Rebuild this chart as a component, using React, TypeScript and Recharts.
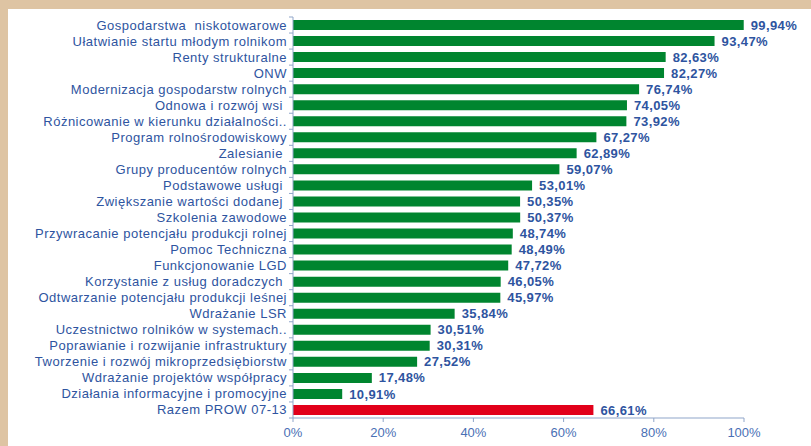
import React from 'react';
import { BarChart, Bar, XAxis, YAxis, Cell, LabelList } from 'recharts';

const categories: string[] = [
  'Gospodarstwa  niskotowarowe',
  'Ułatwianie startu młodym rolnikom',
  'Renty strukturalne',
  'ONW',
  'Modernizacja gospodarstw rolnych',
  'Odnowa i rozwój wsi ',
  'Różnicowanie w kierunku działalności..',
  'Program rolnośrodowiskowy',
  'Zalesianie ',
  'Grupy producentów rolnych',
  'Podstawowe usługi ',
  'Zwiększanie wartości dodanej ',
  'Szkolenia zawodowe',
  'Przywracanie potencjału produkcji rolnej',
  'Pomoc Techniczna',
  'Funkcjonowanie LGD',
  'Korzystanie z usług doradczych ',
  'Odtwarzanie potencjału produkcji leśnej',
  'Wdrażanie LSR',
  'Uczestnictwo rolników w systemach..',
  'Poprawianie i rozwijanie infrastruktury',
  'Tworzenie i rozwój mikroprzedsiębiorstw',
  'Wdrażanie projektów współpracy',
  'Działania informacyjne i promocyjne',
  'Razem PROW 07-13',
];

const values: number[] = [
  99.94, 93.47, 82.63, 82.27, 76.74, 74.05, 73.92, 67.27, 62.89, 59.07, 53.01, 50.35, 50.37,
  48.74, 48.49, 47.72, 46.05, 45.97, 35.84, 30.51, 30.31, 27.52, 17.48, 10.91, 66.61,
];

const xTicks: number[] = [0, 20, 40, 60, 80, 100];

const data = categories.map((name, i) => ({ name, value: values[i] }));

const TEXT = '#2E54A0';
const AXIS = '#8FA5C9';
const FONT = '"Liberation Sans", Arial, sans-serif';

const YTick = (props: any) => {
  const { x, y, payload, index } = props;
  const axisX = x + 6;
  const band = 16.04;
  return (
    <g>
      <text
        x={x}
        y={y}
        dy={4.5}
        textAnchor="end"
        fill={TEXT}
        fontSize={13}
        fontFamily={FONT}
        letterSpacing={0.5}
        style={{ whiteSpace: 'pre' }}
      >
        {payload.value}
      </text>
      <line x1={axisX - 4} x2={axisX} y1={y - band / 2} y2={y - band / 2} stroke={AXIS} />
      {index === categories.length - 1 && (
        <line x1={axisX - 4} x2={axisX} y1={y + band / 2} y2={y + band / 2} stroke={AXIS} />
      )}
    </g>
  );
};

const fmt = (v: any) => `${Number(v).toFixed(2).replace('.', ',')}%`;

export default function App() {
  return (
    <div
      style={{
        position: 'absolute',
        left: 0,
        top: 0,
        width: 811,
        height: 446,
        background: '#DEC4A3',
      }}
    >
      <div style={{ position: 'absolute', left: 8, top: 9, width: 803, height: 437, background: '#FFFFFF' }}>
        <BarChart
          width={803}
          height={437}
          layout="vertical"
          data={data}
          margin={{ top: 8, right: 67, left: 0, bottom: 0 }}
          barSize={10}
        >
          <XAxis
            type="number"
            domain={[0, 100]}
            ticks={xTicks}
            tickFormatter={(v: number) => `${v}%`}
            height={28}
            stroke={AXIS}
            tickSize={4}
            tickMargin={6}
            tick={{ fill: '#4A70B5', fontSize: 13, fontFamily: FONT }}
            interval={0}
          />
          <YAxis
            type="category"
            dataKey="name"
            width={285}
            stroke={AXIS}
            tickLine={false}
            tickSize={4}
            tickMargin={2}
            interval={0}
            tick={<YTick />}
          />
          <Bar dataKey="value" isAnimationActive={false}>
            {data.map((d, i) => (
              <Cell key={i} fill={i === data.length - 1 ? '#E2001A' : '#00852F'} />
            ))}
            <LabelList
              dataKey="value"
              position="right"
              offset={7}
              formatter={fmt}
              fill={TEXT}
              fontSize={13}
              fontWeight="bold"
              fontFamily={FONT}
              letterSpacing={0.4}
            />
          </Bar>
        </BarChart>
      </div>
    </div>
  );
}
